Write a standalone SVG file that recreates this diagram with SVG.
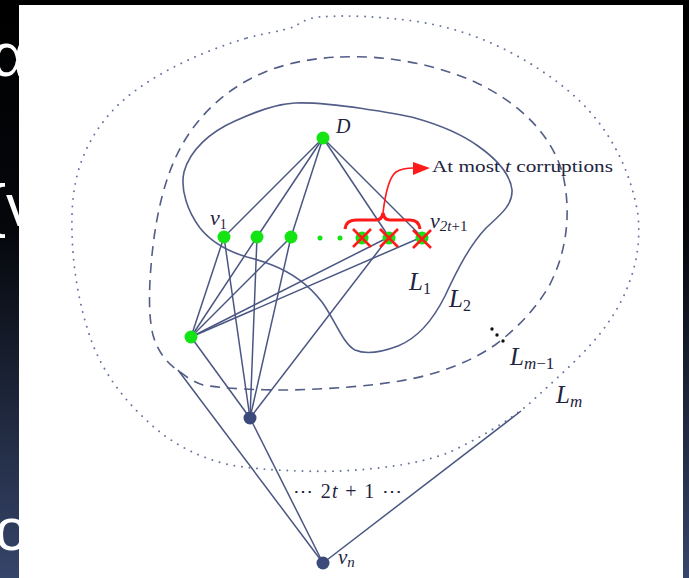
<svg xmlns="http://www.w3.org/2000/svg" width="689" height="578" viewBox="0 0 689 578">
<defs>
<linearGradient id="bg" x1="0" y1="0" x2="0" y2="1">
<stop offset="0" stop-color="#000000"/>
<stop offset="0.4" stop-color="#05070b"/>
<stop offset="1" stop-color="#36456a"/>
</linearGradient>
<style>
.e{stroke:#4a5682;stroke-width:1.5;fill:none}
.solid{stroke:#525d88;stroke-width:1.6;fill:none}
.dash{stroke:#525d88;stroke-width:1.6;fill:none;stroke-dasharray:10 7}
.dot{stroke:#6a76a0;stroke-width:1.9;fill:none;stroke-dasharray:0.1 7.5;stroke-linecap:round}
.g{fill:#14e414}
.k{fill:#3b4a7a}
.red{stroke:#ff1a1a;fill:none}
.lab{font-family:'Liberation Serif','DejaVu Serif',serif;font-style:italic;fill:#1e2440}
.rm{font-family:'Liberation Serif','DejaVu Serif',serif;fill:#1e2440}
.slide{font-family:'Liberation Sans',Arial,sans-serif;fill:#ffffff}
</style>
</defs>
<rect x="0" y="0" width="689" height="578" fill="url(#bg)"/>
<g id="slide-text">
<text class="slide" x="-9" y="76" font-size="62">α</text>
<text class="slide" x="-14" y="226" font-size="60">{v</text>
<text class="slide" x="-5" y="550" font-size="60">o</text>
</g>
<rect x="19" y="5" width="664" height="573" fill="#ffffff"/>

<g id="layers">
<path id="L1" class="solid" d="M247,257 C230,252 212,243 200,228 C188,212 180,190 184,172 C190,150 210,132 235,121 C255,112 275,104 295,103 C320,102 345,106 365,109 C385,112 400,114 415,118 C440,125 460,133 478,146 C495,158 510,172 512,190 C513,205 500,215 486,228 C470,245 458,268 445,296 C433,320 418,338 398,346 C382,352 366,355 355,350 C343,344 335,320 322,302 C308,284 290,272 272,265 C262,261 255,259 247,257 Z"/>
<path id="Lm1" class="dash" d="M340,57 C380,55 430,62 475,82 C520,103 552,135 563,175 C572,215 566,255 548,288 C533,312 515,330 495,345 C470,362 440,374 400,381 C370,386 330,389 290,390 C260,390 225,389 203,385 C190,381 182,373 176,369 C166,362 157,350 153,335 C148,315 149,285 152,255 C156,215 165,175 182,145 C200,113 230,85 270,70 C292,62 315,58 340,57 Z"/>
<path id="Lm" class="dot" d="M247,38 C265,33 283,31 293,27 C300,24 304,19 318,17 C345,15 380,16 420,22 C470,30 520,52 565,88 C605,120 630,165 638,215 C642,255 630,290 610,320 C590,350 560,375 530,403 C510,420 480,438 450,452 C420,464 380,469 340,471 C300,472 260,470 230,465 C200,458 175,445 155,428 C125,402 105,375 93,345 C78,305 71,260 72,215 C73,170 88,135 118,105 C150,75 200,52 247,38 Z"/>
</g>

<g id="connectors">
<line class="e" x1="323" y1="138" x2="224" y2="237"/>
<line class="e" x1="323" y1="138" x2="257" y2="237"/>
<line class="e" x1="323" y1="138" x2="291" y2="237"/>
<line class="e" x1="323" y1="138" x2="389" y2="237"/>
<line class="e" x1="323" y1="138" x2="422" y2="237"/>
<line class="e" x1="191" y1="337" x2="224" y2="237"/>
<line class="e" x1="191" y1="337" x2="257" y2="237"/>
<line class="e" x1="191" y1="337" x2="291" y2="237"/>
<line class="e" x1="191" y1="337" x2="389" y2="237"/>
<line class="e" x1="191" y1="337" x2="422" y2="237"/>
<line class="e" x1="191" y1="337" x2="250" y2="418"/>
<line class="e" x1="250" y1="418" x2="224" y2="237"/>
<line class="e" x1="250" y1="418" x2="257" y2="237"/>
<line class="e" x1="250" y1="418" x2="291" y2="237"/>
<line class="e" x1="250" y1="418" x2="389" y2="237"/>
<line class="e" x1="250" y1="418" x2="323" y2="563"/>
<line class="e" x1="178" y1="370" x2="323" y2="563"/>
<line class="e" x1="323" y1="563" x2="521" y2="411"/>
</g>

<g id="corrupt-brace">
<path class="red" stroke-width="3.2" d="M345,229 Q346,220 356,220 L376,220 Q382,220 383,213 Q384,220 390,220 L410,220 Q419,220 420,229"/>
<path class="red" stroke-width="1.6" d="M383,213 C385,196 388,178 396,172 C402,168 408,168 414,168"/>
<polygon fill="#ff1a1a" points="430,168 413,162 413,175"/>
<text class="rm" x="432" y="172" font-size="16.5" textLength="181" lengthAdjust="spacingAndGlyphs">At most <tspan font-style="italic">t</tspan> corruptions</text>
</g>

<g id="node-D"><circle class="g" cx="323" cy="138" r="6.5"/><text class="lab" x="336" y="133" font-size="20">D</text></g>
<g id="node-v1"><circle class="g" cx="224" cy="237" r="6.5"/><text class="lab" x="210" y="225" font-size="22">v<tspan font-size="14" font-style="normal" dy="4">1</tspan></text></g>
<g id="node-v2"><circle class="g" cx="257" cy="237" r="6.5"/></g>
<g id="node-v3"><circle class="g" cx="291" cy="237" r="6.5"/></g>
<g id="row-dots"><circle class="g" cx="320" cy="238" r="2.5"/><circle class="g" cx="340" cy="238" r="2.5"/></g>
<g id="node-x1"><circle class="g" cx="362" cy="238" r="6.5"/></g>
<g id="node-x2"><circle class="g" cx="389" cy="238" r="6.5"/></g>
<g id="node-v2t1"><circle class="g" cx="422" cy="238" r="6.5"/><text class="lab" x="430" y="228" font-size="22">v<tspan font-size="15" dy="3">2<tspan font-style="italic">t</tspan><tspan font-style="normal">+1</tspan></tspan></text></g>
<g id="crosses" class="red" stroke-width="2.6">
<path d="M353,229 L371,247 M371,229 L353,247"/>
<path d="M380,229 L398,247 M398,229 L380,247"/>
<path d="M413,230 L431,248 M431,230 L413,248"/>
</g>
<g id="node-G"><circle class="g" cx="191" cy="337" r="6.5"/></g>
<g id="node-K"><circle class="k" cx="250" cy="418" r="6.5"/></g>
<g id="node-vn"><circle class="k" cx="323" cy="563" r="6.5"/><text class="lab" x="338" y="564" font-size="21">v<tspan font-size="15" dy="3">n</tspan></text></g>

<g id="labels">
<text class="lab" x="409" y="290" font-size="25">L<tspan font-size="16" font-style="normal" dy="4">1</tspan></text>
<text class="lab" x="449" y="307" font-size="25">L<tspan font-size="16" font-style="normal" dy="4">2</tspan></text>
<circle cx="492" cy="329" r="1.7" fill="#111"/><circle cx="497" cy="335" r="1.7" fill="#111"/><circle cx="503" cy="341" r="1.7" fill="#111"/>
<text class="lab" x="510" y="365" font-size="25">L<tspan font-size="17" dy="4">m<tspan font-style="normal">−1</tspan></tspan></text>
<text class="lab" x="556" y="403" font-size="25">L<tspan font-size="17" dy="4">m</tspan></text>
<text class="rm" x="293" y="498" font-size="20" textLength="109" lengthAdjust="spacing">⋯ 2<tspan font-style="italic">t</tspan> + 1 ⋯</text>
</g>
</svg>
